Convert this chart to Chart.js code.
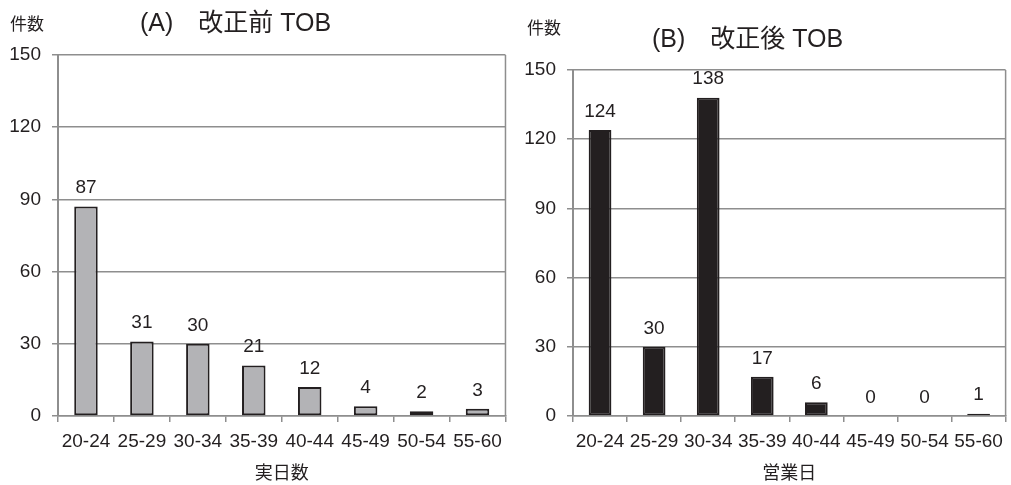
<!DOCTYPE html>
<html>
<head>
<meta charset="utf-8">
<script src="https://cdn.jsdelivr.net/npm/chart.js@4.4.1/dist/chart.umd.min.js"></script>
<style>
  html, body { margin: 0; padding: 0; background: #ffffff; }
  #wrap { position: relative; width: 1011px; height: 485px; overflow: hidden; }
  canvas { position: absolute; top: 0; }
</style>
</head>
<body>
<div id="wrap">
  <canvas id="chartA" width="510" height="485" style="left:0"></canvas>
  <canvas id="chartB" width="501" height="485" style="left:510px"></canvas>
</div>
<script>
// Day-count buckets shared by both panels
const categories = ['20-24', '25-29', '30-34', '35-39', '40-44', '45-49', '50-54', '55-60'];
// (A) before the revision: counted in calendar days
const countsBefore = [87, 31, 30, 21, 12, 4, 2, 3];
// (B) after the revision: counted in business days
const countsAfter = [124, 30, 138, 17, 6, 0, 0, 1];
// y-axis tick values
const yTicks = [0, 30, 60, 90, 120, 150];

const FONT = "'Liberation Sans', 'Noto Sans CJK JP', Arial, sans-serif";
const INK = '#231f20';
const GRID = '#8e8e8e';

// Value labels above each bar
const valueLabels = {
  id: 'valueLabels',
  afterDatasetsDraw(chart) {
    const ctx = chart.ctx;
    const ds = chart.data.datasets[0];
    const meta = chart.getDatasetMeta(0);
    ctx.save();
    ctx.font = '19px ' + FONT;
    ctx.fillStyle = INK;
    ctx.textAlign = 'center';
    ctx.textBaseline = 'bottom';
    meta.data.forEach((bar, i) => {
      ctx.fillText(String(ds.data[i]), bar.x, bar.y - 9);
    });
    ctx.restore();
  }
};

// Panel heading and unit caption, plus the right-hand frame line
const panelDecor = {
  id: 'panelDecor',
  afterDraw(chart, args, opts) {
    const ctx = chart.ctx;
    const area = chart.chartArea;
    ctx.save();
    ctx.strokeStyle = GRID;
    ctx.lineWidth = 1.5;
    ctx.beginPath();
    ctx.moveTo(area.right, area.top);
    ctx.lineTo(area.right, area.bottom);
    ctx.stroke();

    ctx.fillStyle = INK;
    ctx.textBaseline = 'middle';
    ctx.textAlign = 'left';
    ctx.font = '17px ' + FONT;
    ctx.fillText(opts.unit.text, opts.unit.x, opts.unit.y);
    ctx.font = '25px ' + FONT;
    ctx.fillText(opts.title.text, opts.title.x, opts.title.y);
    ctx.restore();
  }
};

function makePanel(canvasId, values, fill, xTitle, yWidth, padding, decor) {
  return new Chart(document.getElementById(canvasId), {
    type: 'bar',
    data: {
      labels: categories,
      datasets: [{
        data: values,
        backgroundColor: fill,
        borderColor: INK,
        borderWidth: 2,
        borderSkipped: false,
        categoryPercentage: 1,
        barPercentage: 0.42
      }]
    },
    options: {
      responsive: false,
      animation: false,
      devicePixelRatio: 1,
      layout: { padding: padding },
      plugins: {
        legend: { display: false },
        tooltip: { enabled: false },
        panelDecor: decor
      },
      scales: {
        x: {
          offset: true,
          grid: {
            offset: true,
            drawOnChartArea: false,
            drawTicks: true,
            tickLength: 6,
            color: GRID,
            lineWidth: 1.5
          },
          border: { display: true, color: GRID, width: 1.5 },
          ticks: {
            color: INK,
            font: { family: FONT, size: 19 },
            padding: 8,
            maxRotation: 0,
            autoSkip: false
          },
          title: {
            display: true,
            text: xTitle,
            color: INK,
            font: { family: FONT, size: 18 },
            padding: { top: 0, bottom: 0 }
          },
          afterFit(scale) { scale.height = 69; }
        },
        y: {
          min: 0,
          max: 150,
          afterBuildTicks(scale) { scale.ticks = yTicks.map(v => ({ value: v })); },
          grid: {
            color: GRID,
            lineWidth: 1.5,
            drawTicks: true,
            tickLength: 6
          },
          border: { display: true, color: GRID, width: 2 },
          ticks: {
            color: INK,
            font: { family: FONT, size: 19 },
            padding: 11
          },
          afterFit(scale) { scale.width = yWidth; }
        }
      }
    },
    plugins: [valueLabels, panelDecor]
  });
}

makePanel('chartA', countsBefore, '#b3b3b6', '実日数', 58,
  { top: 55, right: 3, left: 0, bottom: 0 },
  { unit: { text: '件数', x: 10, y: 25 }, title: { text: '(A)\u3000改正前 TOB', x: 140, y: 24 } });

makePanel('chartB', countsAfter, INK, '営業日', 63,
  { top: 70, right: 2, left: 0, bottom: 0 },
  { unit: { text: '件数', x: 17, y: 29 }, title: { text: '(B)\u3000改正後 TOB', x: 142, y: 40 } });
</script>
</body>
</html>
